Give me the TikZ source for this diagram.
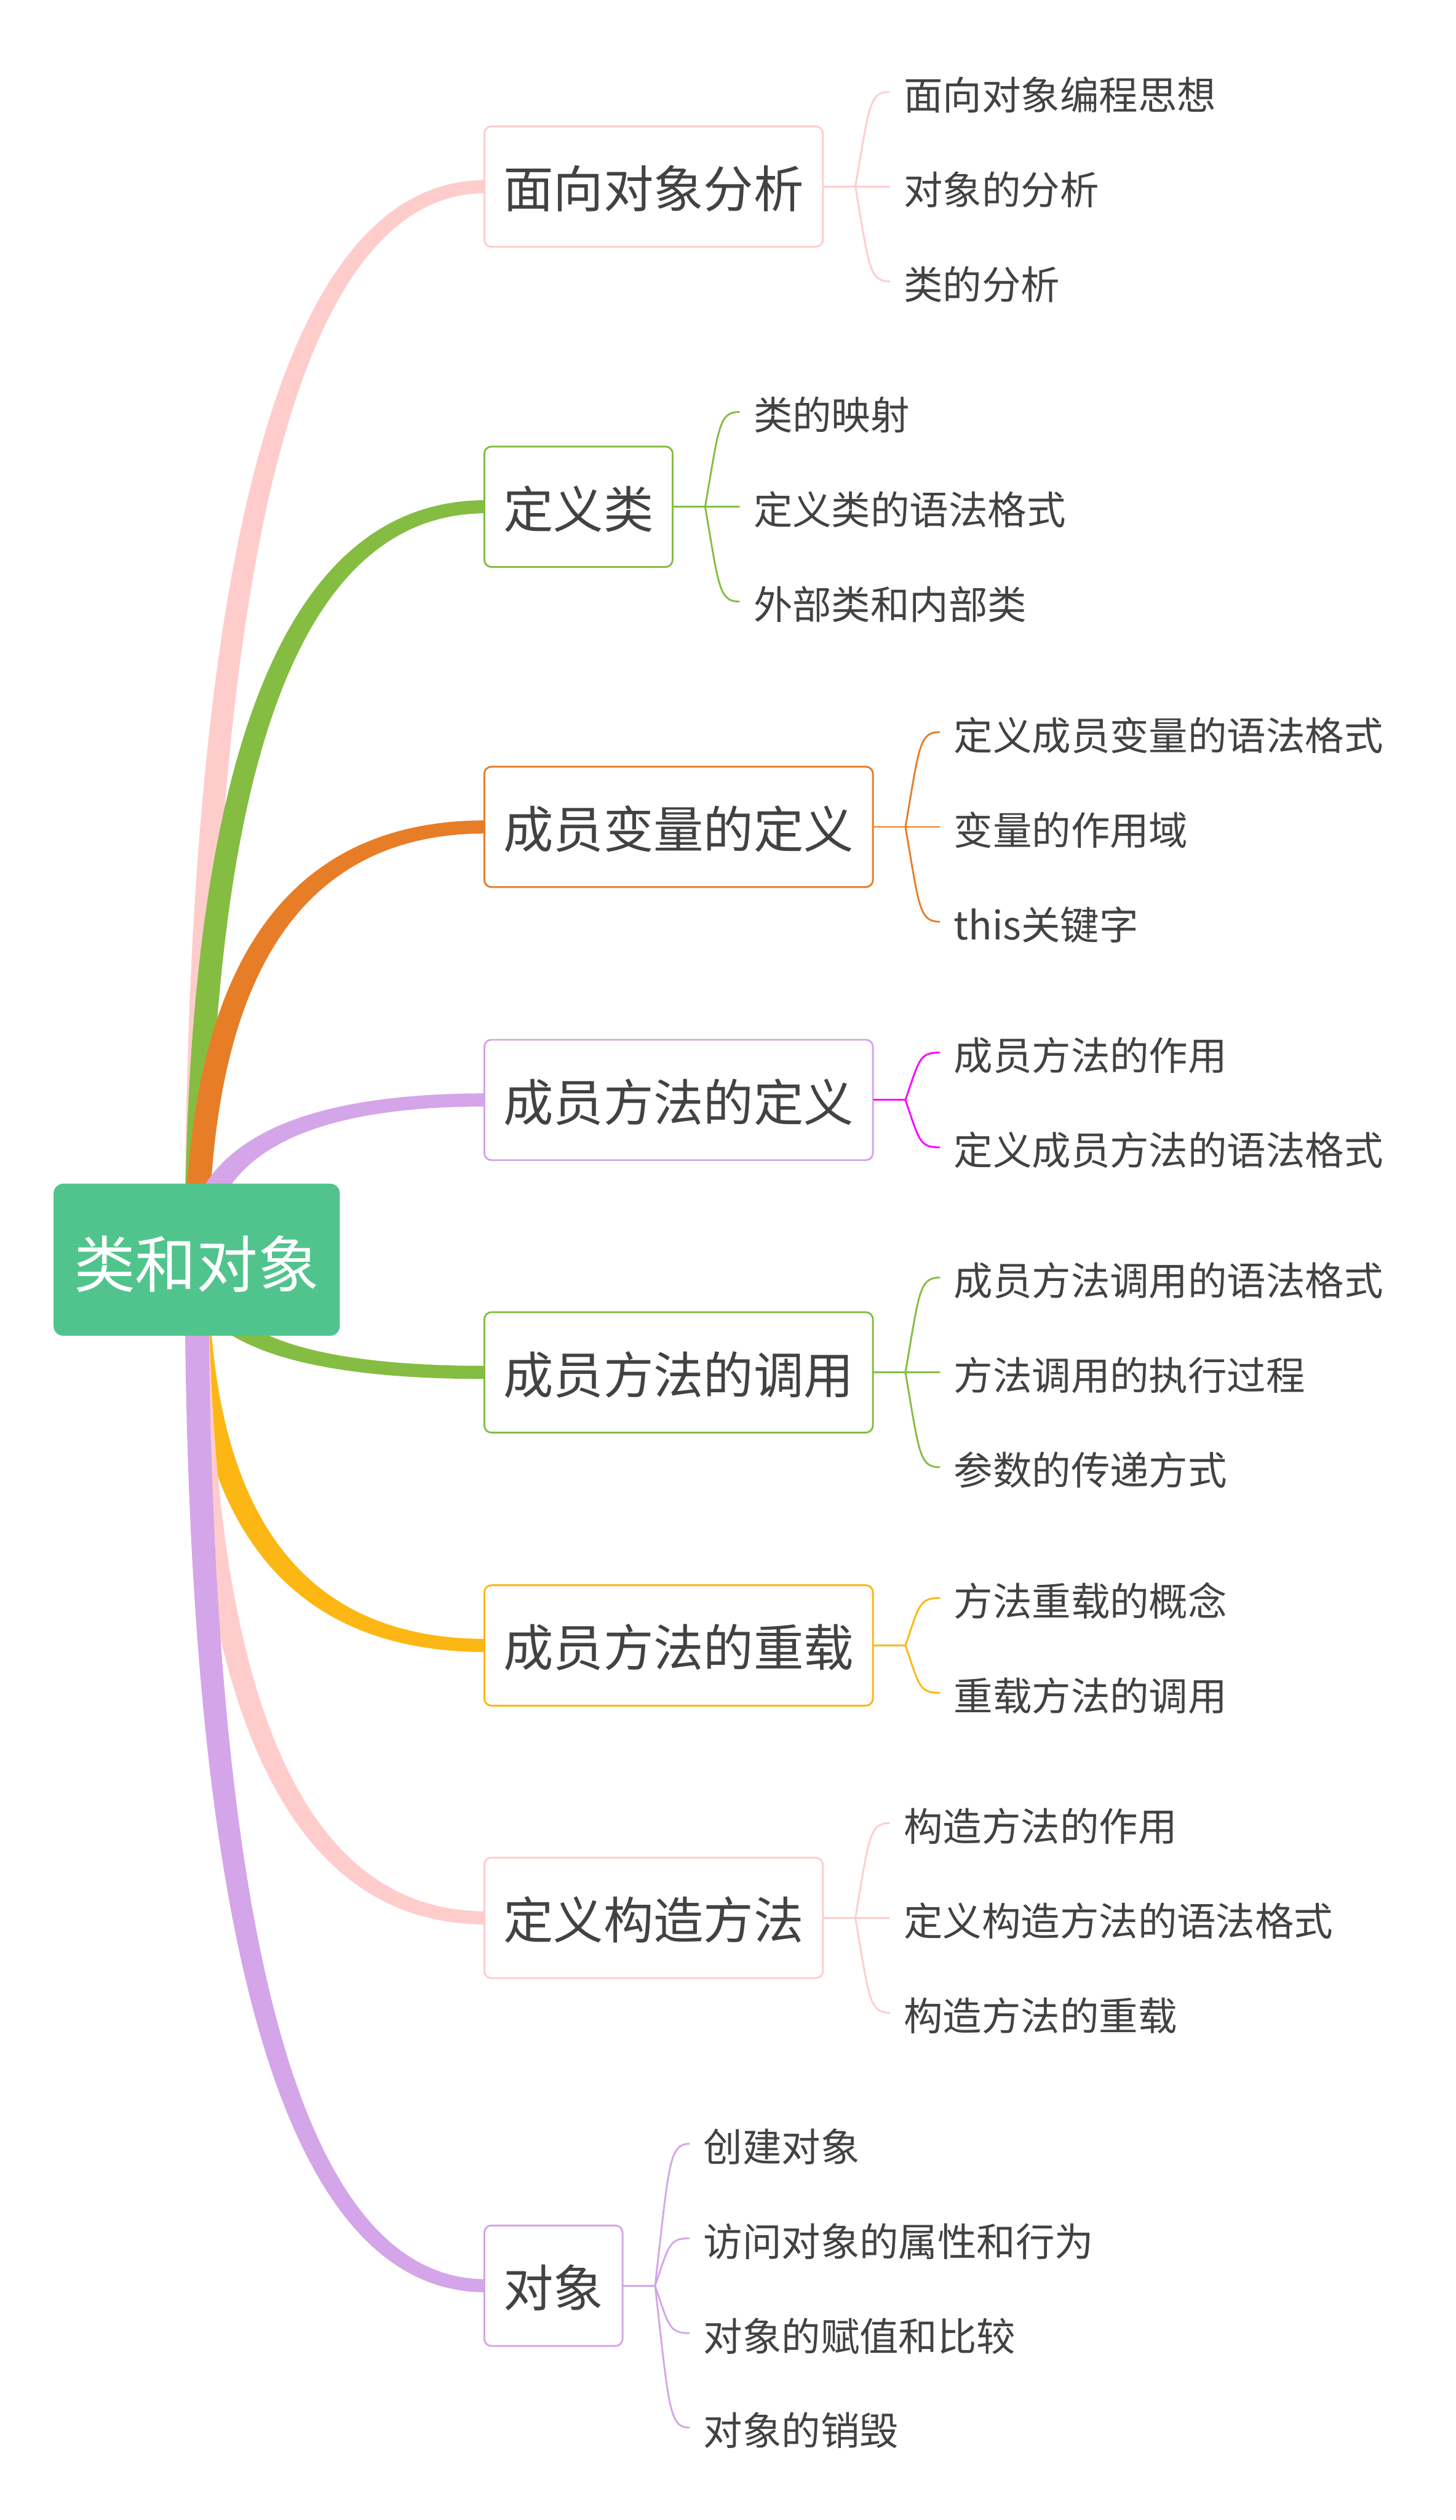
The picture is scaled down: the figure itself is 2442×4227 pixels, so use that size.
\documentclass[tikz,border=0pt]{standalone}
\usepackage{fontspec}
\setmainfont{Noto Sans CJK SC}
\usetikzlibrary{calc,backgrounds}
\definecolor{rootFill}{RGB}{81,196,141}
\definecolor{pinkStroke}{RGB}{255,204,204}
\definecolor{greenStroke}{RGB}{132,189,66}
\definecolor{orangeStroke}{RGB}{232,125,39}
\definecolor{lilacStroke}{RGB}{212,165,232}
\definecolor{amberStroke}{RGB}{253,183,20}
\definecolor{magentaStroke}{RGB}{255,0,255}
\colorlet{ink}{black!74}
\tikzset{
  root/.style={
    rounded corners=16pt,
    fill=rootFill,
    text=white,
    minimum width=480pt,
    minimum height=255pt,
    inner sep=0pt,
    text height=95pt,
    text depth=2pt,
    font=\fontsize{103}{120}\selectfont
  },
  topic/.style={
    rounded corners=12pt,
    draw=#1,
    fill=white,
    line width=3pt,
    minimum height=202pt,
    inner xsep=32pt,
    inner ysep=0pt,
    anchor=west,
    text=ink,
    text height=73pt,
    text depth=2pt,
    font=\fontsize{84}{100}\selectfont
  },
  leaf/.style={
    anchor=west,
    inner xsep=24pt,
    inner ysep=0pt,
    text=ink,
    text height=62pt,
    text depth=2pt,
    font=\fontsize{65.5}{80}\selectfont
  },
  twig/.style={draw=#1, line width=3pt, line cap=round, line join=round}
}
% tapered branch from the root to a topic: colour, topic, end shift of left edge, end shift of right edge
\newcommand{\Trunk}[4]{%
  \coordinate (ta0) at ($(root.center)+(-20,0)$);
  \coordinate (ta3) at ([xshift=4pt,yshift=#3]#2.west);
  \coordinate (tac) at (ta0 |- ta3);
  \coordinate (tb0) at ($(root.center)+(20,0)$);
  \coordinate (tb3) at ([xshift=4pt,yshift=#4]#2.west);
  \coordinate (tbc) at (tb0 |- tb3);
  \fill[#1] (ta0) .. controls ($(ta0)!2/3!(tac)$) and ($(ta3)!2/3!(tac)$) .. (ta3)
    -- (tb3) .. controls ($(tb3)!2/3!(tbc)$) and ($(tb0)!2/3!(tbc)$) .. (tb0) -- cycle;
}
% thin curve from a fork to a leaf
\newcommand{\Twig}[3]{%
  \coordinate (tk) at (#2 |- #3.west);
  \draw[twig=#1] (#2) .. controls ($(#2)!0.84!(tk)+(23,0)$) and ($(tk)+(23,0)$) .. (#3.west);
}

\begin{document}
\begin{tikzpicture}[x=1pt,y=-1pt]
  \useasboundingbox (0,0) rectangle (2442,4227);

  \node[root] (root) at (330,2113) {类和对象};

  \node[topic=pinkStroke] (b1) at (811,313) {面向对象分析};
  \node[topic=greenStroke] (b2) at (811,850) {定义类};
  \node[topic=orangeStroke] (b3) at (811,1387) {成员变量的定义};
  \node[topic=lilacStroke] (b4) at (811,1845) {成员方法的定义};
  \node[topic=greenStroke] (b5) at (811,2302) {成员方法的调用};
  \node[topic=amberStroke] (b6) at (811,2760) {成员方法的重载};
  \node[topic=pinkStroke] (b7) at (811,3217) {定义构造方法};
  \node[topic=lilacStroke] (b8) at (811,3834) {对象};

  \begin{scope}[on background layer]
    \Trunk{pinkStroke}{b1}{11pt}{-11pt}
    \Trunk{greenStroke}{b2}{11pt}{-11pt}
    \Trunk{orangeStroke}{b3}{11pt}{-11pt}
    \Trunk{lilacStroke}{b4}{11pt}{-11pt}
    \Trunk{greenStroke}{b5}{-11pt}{11pt}
    \Trunk{amberStroke}{b6}{-11pt}{11pt}
    \Trunk{pinkStroke}{b7}{-11pt}{11pt}
    \Trunk{lilacStroke}{b8}{-11pt}{11pt}
  \end{scope}

  % leaves
  \node[leaf] (l11) at ($(b1.east)+(110,-159)$) {面向对象编程思想};
  \node[leaf] (l12) at ($(b1.east)+(110,0)$) {对象的分析};
  \node[leaf] (l13) at ($(b1.east)+(110,159)$) {类的分析};

  \node[leaf] (l21) at ($(b2.east)+(110,-159)$) {类的映射};
  \node[leaf] (l22) at ($(b2.east)+(110,0)$) {定义类的语法格式};
  \node[leaf] (l23) at ($(b2.east)+(110,159)$) {外部类和内部类};

  \node[leaf] (l31) at ($(b3.east)+(110,-159)$) {定义成员变量的语法格式};
  \node[leaf] (l32) at ($(b3.east)+(110,0)$) {变量的作用域};
  \node[leaf] (l33) at ($(b3.east)+(110,159)$) {this关键字};

  \node[leaf] (l41) at ($(b4.east)+(110,-79.5)$) {成员方法的作用};
  \node[leaf] (l42) at ($(b4.east)+(110,79.5)$) {定义成员方法的语法格式};

  \node[leaf] (l51) at ($(b5.east)+(110,-159)$) {成员方法调用的语法格式};
  \node[leaf] (l52) at ($(b5.east)+(110,0)$) {方法调用的执行过程};
  \node[leaf] (l53) at ($(b5.east)+(110,159)$) {参数的传递方式};

  \node[leaf] (l61) at ($(b6.east)+(110,-79.5)$) {方法重载的概念};
  \node[leaf] (l62) at ($(b6.east)+(110,79.5)$) {重载方法的调用};

  \node[leaf] (l71) at ($(b7.east)+(110,-159)$) {构造方法的作用};
  \node[leaf] (l72) at ($(b7.east)+(110,0)$) {定义构造方法的语法格式};
  \node[leaf] (l73) at ($(b7.east)+(110,159)$) {构造方法的重载};

  \node[leaf] (l81) at ($(b8.east)+(110,-238)$) {创建对象};
  \node[leaf] (l82) at ($(b8.east)+(110,-79.5)$) {访问对象的属性和行为};
  \node[leaf] (l83) at ($(b8.east)+(110,79.5)$) {对象的赋值和比较};
  \node[leaf] (l84) at ($(b8.east)+(110,238)$) {对象的销毁};

  % forks
  \foreach \b in {1,...,8}
    \coordinate (f\b) at ($(b\b.east)+(53,0)$);

  \draw[twig=pinkStroke] (b1.east) -- (f1);
  \foreach \l in {l11,l12,l13} {\Twig{pinkStroke}{f1}{\l}}
  \draw[twig=greenStroke] (b2.east) -- (f2);
  \foreach \l in {l21,l22,l23} {\Twig{greenStroke}{f2}{\l}}
  \draw[twig=orangeStroke] (b3.east) -- (f3);
  \foreach \l in {l31,l32,l33} {\Twig{orangeStroke}{f3}{\l}}
  \draw[twig=magentaStroke] (b4.east) -- (f4);
  \foreach \l in {l41,l42} {\Twig{magentaStroke}{f4}{\l}}
  \draw[twig=greenStroke] (b5.east) -- (f5);
  \foreach \l in {l51,l52,l53} {\Twig{greenStroke}{f5}{\l}}
  \draw[twig=amberStroke] (b6.east) -- (f6);
  \foreach \l in {l61,l62} {\Twig{amberStroke}{f6}{\l}}
  \draw[twig=pinkStroke] (b7.east) -- (f7);
  \foreach \l in {l71,l72,l73} {\Twig{pinkStroke}{f7}{\l}}
  \draw[twig=lilacStroke] (b8.east) -- (f8);
  \foreach \l in {l81,l82,l83,l84} {\Twig{lilacStroke}{f8}{\l}}
\end{tikzpicture}
\end{document}
